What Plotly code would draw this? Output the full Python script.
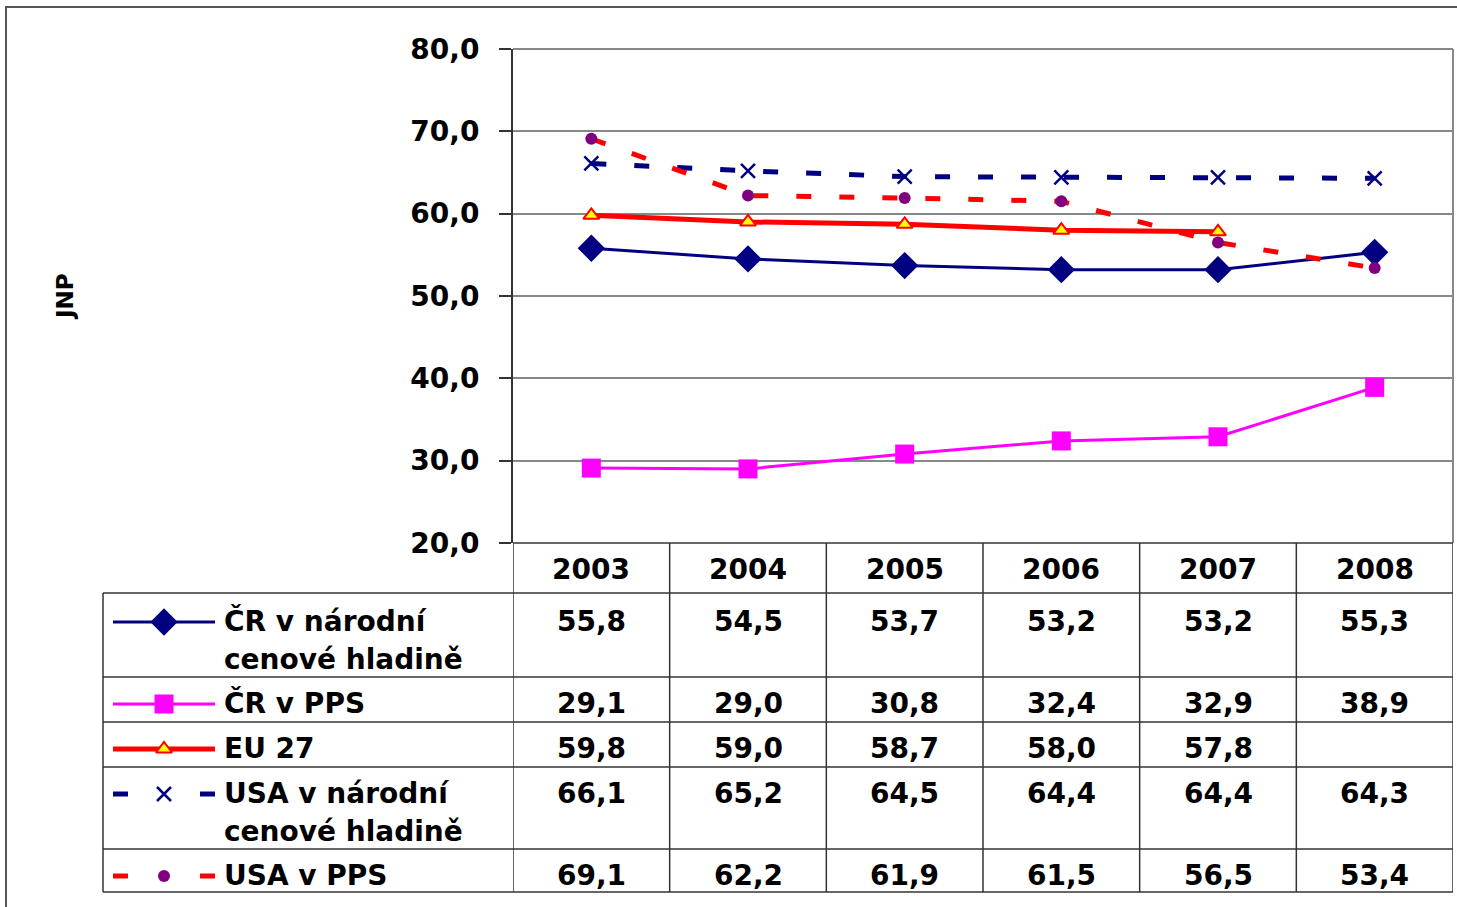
import plotly.graph_objects as go

# ---------------- data ----------------
years = ["2003", "2004", "2005", "2006", "2007", "2008"]
cr_narodni = [55.8, 54.5, 53.7, 53.2, 53.2, 55.3]
cr_pps = [29.1, 29.0, 30.8, 32.4, 32.9, 38.9]
eu27 = [59.8, 59.0, 58.7, 58.0, 57.8, None]
usa_narodni = [66.1, 65.2, 64.5, 64.4, 64.4, 64.3]
usa_pps = [69.1, 62.2, 61.9, 61.5, 56.5, 53.4]
series_names = ["ČR v národní\ncenové hladině", "ČR v PPS", "EU 27",
                "USA v národní\ncenové hladině", "USA v PPS"]
y_title = "JNP"
y_ticks = [20, 30, 40, 50, 60, 70, 80]

# ---------------- layout geometry (pixels) ----------------
W, H = 1457, 907
PX0, PX1 = 513, 1453       # plot area left/right
PY_TOP, PY_BOT = 49, 543   # plot area top/bottom
TABLE_LEFT = 103
HEADER = (543, 593)
ROWS = [(593, 677), (677, 722), (722, 767), (767, 849), (849, 892)]
FIRST_LINE_Y = [621, 703, 748, 793, 875]
LINE_GAP = 38
KEY_X = (113, 215)
LABEL_X = 222
FONT = "DejaVu Sans"
FS = 28

styles = [
    dict(line=dict(color="#000080", width=3),
         marker=dict(symbol="diamond", size=21, color="#000080")),
    dict(line=dict(color="#FF00FF", width=3),
         marker=dict(symbol="square", size=19, color="#FF00FF")),
    dict(line=dict(color="#FF0000", width=5),
         marker=dict(symbol="triangle-up", size=14, color="#FFFF00",
                     line=dict(color="#FF0000", width=2))),
    dict(line=dict(color="#000080", width=5, dash="15px,28px"),
         marker=dict(symbol="x-thin", size=14, color="#000080",
                     line=dict(color="#000080", width=2.5))),
    dict(line=dict(color="#FF0000", width=5, dash="15px,28px"),
         marker=dict(symbol="circle", size=12, color="#800080")),
]
values = [cr_narodni, cr_pps, eu27, usa_narodni, usa_pps]

fig = go.Figure()

for vals, name, st in zip(values, series_names, styles):
    fig.add_trace(go.Scatter(x=years, y=vals, mode="lines+markers",
                             name=name.replace("\n", " "), line=st["line"],
                             marker=st["marker"], showlegend=False,
                             xaxis="x", yaxis="y"))

# legend keys inside the table (pixel overlay axes x2/y2)
for i, st in enumerate(styles):
    ky = FIRST_LINE_Y[i] + 1
    mid = (KEY_X[0] + KEY_X[1]) / 2
    ln = dict(st["line"])
    if "dash" in ln:
        ln.pop("dash")
        xs = [KEY_X[0], KEY_X[0] + 15, None, KEY_X[1] - 15, KEY_X[1]]
        ys = [ky, ky, None, ky, ky]
    else:
        xs = [KEY_X[0], KEY_X[1]]
        ys = [ky, ky]
    fig.add_trace(go.Scatter(x=xs, y=ys, mode="lines", line=ln,
                             showlegend=False, xaxis="x2", yaxis="y2",
                             hoverinfo="skip"))
    fig.add_trace(go.Scatter(x=[mid], y=[ky], mode="markers",
                             marker=st["marker"], showlegend=False,
                             xaxis="x2", yaxis="y2", hoverinfo="skip"))

shapes = []
dark = "#333333"
grey = "#888888"
# outer frame
shapes.append(dict(type="rect", xref="x2", yref="y2", x0=6, y0=7, x1=W + 10, y1=H + 10,
                   line=dict(color="#555555", width=2), layer="below"))
# plot area top & right border
shapes.append(dict(type="line", xref="x2", yref="y2", x0=PX0, x1=PX1, y0=PY_TOP, y1=PY_TOP,
                   line=dict(color=grey, width=2)))
shapes.append(dict(type="line", xref="x2", yref="y2", x0=PX1, x1=PX1, y0=PY_TOP, y1=PY_BOT,
                   line=dict(color=grey, width=2)))
# table horizontal lines
shapes.append(dict(type="line", xref="x2", yref="y2", x0=PX0, x1=PX1, y0=HEADER[0], y1=HEADER[0],
                   line=dict(color=dark, width=1.5)))
for (t, b) in ROWS:
    shapes.append(dict(type="line", xref="x2", yref="y2", x0=TABLE_LEFT, x1=PX1, y0=t, y1=t,
                       line=dict(color=dark, width=1.5)))
shapes.append(dict(type="line", xref="x2", yref="y2", x0=TABLE_LEFT, x1=PX1,
                   y0=ROWS[-1][1], y1=ROWS[-1][1], line=dict(color=dark, width=1.5)))
# table left border
shapes.append(dict(type="line", xref="x2", yref="y2", x0=TABLE_LEFT, x1=TABLE_LEFT,
                   y0=ROWS[0][0], y1=ROWS[-1][1], line=dict(color=dark, width=1.5)))
# column separators via category axis
for i in range(len(years) + 1):
    shapes.append(dict(type="line", xref="x", yref="y2", x0=i - 0.5, x1=i - 0.5,
                       y0=HEADER[0], y1=ROWS[-1][1], line=dict(color=dark, width=1.5)))

annotations = []
bold = dict(family=FONT, size=FS, color="black", weight="bold")
for i, yr in enumerate(years):
    annotations.append(dict(x=i, y=(HEADER[0] + HEADER[1]) / 2 + 1, xref="x", yref="y2",
                            text=yr, showarrow=False, font=bold,
                            xanchor="center", yanchor="middle"))
for r, vals in enumerate(values):
    for i, v in enumerate(vals):
        if v is None:
            continue
        annotations.append(dict(x=i, y=FIRST_LINE_Y[r], xref="x", yref="y2",
                                text=f"{v:.1f}".replace(".", ","), showarrow=False,
                                font=bold, xanchor="center", yanchor="middle"))
    for k, line_txt in enumerate(series_names[r].split("\n")):
        annotations.append(dict(x=LABEL_X, y=FIRST_LINE_Y[r] + k * LINE_GAP, xref="x2", yref="y2",
                                text=line_txt, showarrow=False, font=bold,
                                xanchor="left", yanchor="middle"))
annotations.append(dict(x=65, y=297, xref="x2", yref="y2", text=y_title, textangle=-90,
                        showarrow=False, font=dict(family=FONT, size=23, color="black",
                                                   weight="bold"),
                        xanchor="center", yanchor="middle"))

fig.update_layout(
    width=W, height=H, margin=dict(l=0, r=0, t=0, b=0, pad=0, autoexpand=False),
    paper_bgcolor="white", plot_bgcolor="rgba(0,0,0,0)",
    separators=", ",
    showlegend=False,
    xaxis=dict(domain=[PX0 / W, PX1 / W], range=[-0.5, 5.5], type="category",
               showticklabels=False, showgrid=False, zeroline=False, ticks="",
               automargin=False),
    yaxis=dict(domain=[1 - PY_BOT / H, 1 - PY_TOP / H], range=[20, 80],
               tickvals=y_ticks, tickformat=".1f", ticks="outside", ticklen=12,
               tickcolor=dark, tickwidth=1.5, showline=True, linecolor=dark, linewidth=2,
               showgrid=True, gridcolor=grey, gridwidth=1.5, zeroline=False,
               tickfont=bold, ticklabelstandoff=14, automargin=False),
    xaxis2=dict(domain=[0, 1], range=[0, W], visible=False, anchor="y2", automargin=False),
    yaxis2=dict(domain=[0, 1], range=[H, 0], visible=False, anchor="x2", automargin=False),
    shapes=shapes, annotations=annotations,
)

fig.write_html("out.html", config={"displayModeBar": False},
               post_script="document.body.style.margin='0px';")
